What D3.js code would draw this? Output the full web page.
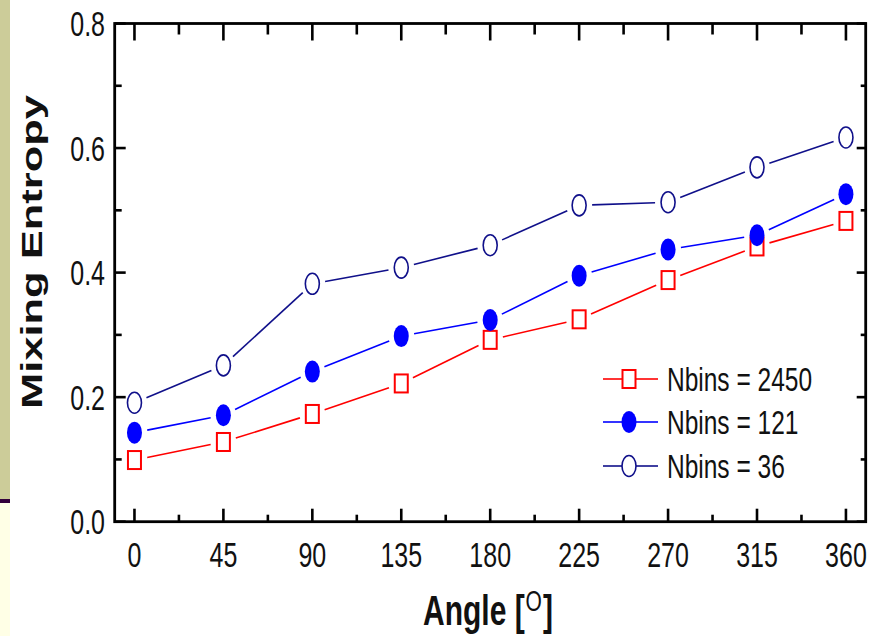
<!doctype html>
<html>
<head>
<meta charset="utf-8"/>
<script src="https://d3js.org/d3.v7.min.js"></script>
<style>
  body { margin:0; background:#fff; }
  text { font-family: "Liberation Sans", Arial, sans-serif; fill:#111; }
</style>
</head>
<body>
<script>
// data
var angles = [0, 45, 90, 135, 180, 225, 270, 315, 360];
var nbins2450 = [0.099, 0.128, 0.173, 0.222, 0.292, 0.325, 0.388, 0.442, 0.483];
var nbins121  = [0.143, 0.171, 0.241, 0.298, 0.324, 0.395, 0.437, 0.460, 0.526];
var nbins36   = [0.191, 0.251, 0.382, 0.408, 0.444, 0.508, 0.513, 0.569, 0.617];
var seriesNames = ["Nbins = 2450", "Nbins = 121", "Nbins = 36"];
var xTicks = [0, 45, 90, 135, 180, 225, 270, 315, 360];
var xMinor = [22.5, 67.5, 112.5, 157.5, 202.5, 247.5, 292.5, 337.5];
var yTicks = [0, 0.2, 0.4, 0.6, 0.8];
var yMinor = [0.1, 0.3, 0.5, 0.7];

var width = 869, height = 636;
var svg = d3.select("body").append("svg").attr("width", width).attr("height", height);

// slide decoration on the left
svg.append("rect").attr("x",0).attr("y",0).attr("width",10).attr("height",499).attr("fill","#cccc99");
svg.append("rect").attr("x",0).attr("y",499).attr("width",10).attr("height",4).attr("fill","#33003a");
svg.append("rect").attr("x",0).attr("y",503).attr("width",10).attr("height",133).attr("fill","#ffffe6");

var x = d3.scaleLinear().domain([-10, 370]).range([114.7, 865.7]);
var y = d3.scaleLinear().domain([0, 0.8]).range([521.7, 23.5]);

var L = x.range()[0], R = x.range()[1], T = y.range()[1], B = y.range()[0];

// ticks (inward)
var tk = svg.append("g").attr("stroke","#000").attr("stroke-width",2.6);
xTicks.forEach(function(v){
  tk.append("line").attr("x1",x(v)).attr("x2",x(v)).attr("y1",B).attr("y2",B-13);
  tk.append("line").attr("x1",x(v)).attr("x2",x(v)).attr("y1",T).attr("y2",T+17);
});
xMinor.forEach(function(v){
  tk.append("line").attr("x1",x(v)).attr("x2",x(v)).attr("y1",B).attr("y2",B-7);
  tk.append("line").attr("x1",x(v)).attr("x2",x(v)).attr("y1",T).attr("y2",T+11);
});
yTicks.forEach(function(v){
  tk.append("line").attr("y1",y(v)).attr("y2",y(v)).attr("x1",L).attr("x2",L+11);
  tk.append("line").attr("y1",y(v)).attr("y2",y(v)).attr("x1",R).attr("x2",R-9);
});
yMinor.forEach(function(v){
  tk.append("line").attr("y1",y(v)).attr("y2",y(v)).attr("x1",L).attr("x2",L+7);
  tk.append("line").attr("y1",y(v)).attr("y2",y(v)).attr("x1",R).attr("x2",R-5);
});

svg.append("rect").attr("x",L).attr("y",T).attr("width",R-L).attr("height",B-T)
  .attr("fill","none").attr("stroke","#000").attr("stroke-width",2.8);

// tick labels (tall, narrow look -> vertical stretch)
yTicks.forEach(function(v){
  svg.append("g").attr("transform","translate(105,"+y(v)+") scale(1,1.4)")
    .append("text").attr("text-anchor","end").attr("dy","0.36em")
    .style("font-size","25px").text(d3.format(".1f")(v));
});
xTicks.forEach(function(v){
  svg.append("g").attr("transform","translate("+x(v)+",567) scale(1,1.4)")
    .append("text").attr("text-anchor","middle")
    .style("font-size","25px").text(v);
});

// axis titles
svg.append("g").attr("transform","translate(42,252) scale(1,1.45) rotate(-90)")
  .append("text").attr("text-anchor","middle")
  .style("font-size","30px").style("font-weight","bold").text("Mixing Entropy");

var xt = svg.append("g").attr("transform","translate(423,625) scale(1,1.4)")
  .append("text").style("font-size","30px").style("font-weight","bold");
xt.append("tspan").text("Angle [");
xt.append("tspan").attr("dy",-10).attr("dx",1).style("font-size","21px").style("font-weight","normal").text("O");
xt.append("tspan").attr("dy",10).attr("dx",1).text("]");

// series
var series = [
  {name: seriesNames[0], values: nbins2450, color:"#ff0000", shape:"square"},
  {name: seriesNames[1], values: nbins121,  color:"#0000ff", shape:"dot"},
  {name: seriesNames[2], values: nbins36,   color:"#10108a", shape:"circle"}
];

function marker(g, s, cx, cy){
  if (s.shape === "square") {
    g.append("rect").attr("x",cx-6.5).attr("y",cy-9).attr("width",13).attr("height",18)
      .attr("fill","#fff").attr("stroke",s.color).attr("stroke-width",2);
  } else if (s.shape === "dot") {
    g.append("ellipse").attr("cx",cx).attr("cy",cy).attr("rx",7.5).attr("ry",11)
      .attr("fill",s.color);
  } else {
    g.append("ellipse").attr("cx",cx).attr("cy",cy).attr("rx",7).attr("ry",10.5)
      .attr("fill","#fff").attr("stroke",s.color).attr("stroke-width",1.6);
  }
}

var gap = 13;
series.forEach(function(s){
  var g = svg.append("g");
  var pts = angles.map(function(a,i){ return [x(a), y(s.values[i])]; });
  for (var i=0;i<pts.length-1;i++){
    var p = pts[i], q = pts[i+1];
    var dx = q[0]-p[0], dy = q[1]-p[1], len = Math.sqrt(dx*dx+dy*dy);
    var ux = dx/len, uy = dy/len;
    g.append("line").attr("x1",p[0]+ux*gap).attr("y1",p[1]+uy*gap)
      .attr("x2",q[0]-ux*gap).attr("y2",q[1]-uy*gap)
      .attr("stroke",s.color).attr("stroke-width",1.6);
  }
  pts.forEach(function(p){ marker(g, s, p[0], p[1]); });
});

// legend
var legY = [379, 422, 466];
series.forEach(function(s,i){
  var g = svg.append("g");
  var cy = legY[i];
  g.append("line").attr("x1",603).attr("x2",622).attr("y1",cy).attr("y2",cy).attr("stroke",s.color).attr("stroke-width",1.6);
  g.append("line").attr("x1",636).attr("x2",658).attr("y1",cy).attr("y2",cy).attr("stroke",s.color).attr("stroke-width",1.6);
  marker(g, s, 629, cy);
  g.append("g").attr("transform","translate(667,"+cy+") scale(1,1.38)")
    .append("text").attr("dy","0.36em").style("font-size","24.5px").text(s.name);
});
</script>
</body>
</html>
